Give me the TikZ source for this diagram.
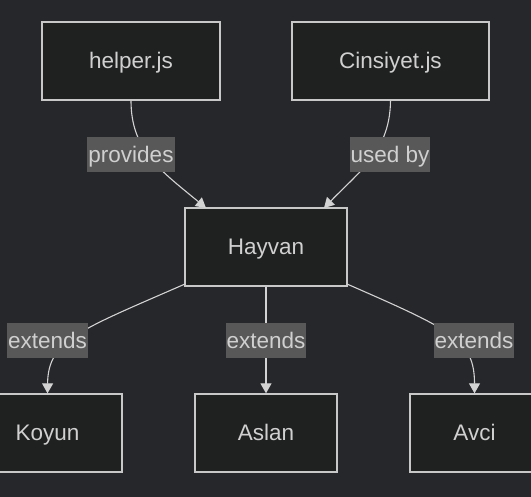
\documentclass[tikz,border=0pt]{standalone}
\usepackage{fontspec}
\setmainfont{Liberation Sans}
\usetikzlibrary{arrows.meta}
\definecolor{bgc}{HTML}{26272B}
\definecolor{nodefill}{HTML}{1F2020}
\definecolor{nodeline}{HTML}{C8C8C8}
\definecolor{lblfill}{HTML}{585858}
\definecolor{txt}{HTML}{D0D0D0}
\definecolor{edgec}{HTML}{D3D3D3}
\begin{document}
\begin{tikzpicture}[x=1pt,y=-1pt,
  box/.style={draw=nodeline,line width=1.3pt,fill=nodefill,text=txt,minimum height=78pt,inner sep=0pt,text height=16pt,text depth=0pt,font=\fontsize{22.5}{26}\selectfont},
  lbl/.style={fill=lblfill,text=txt,minimum height=35pt,inner xsep=1pt,inner ysep=0pt,text height=16pt,text depth=1pt,font=\fontsize{22.5}{26}\selectfont},
  edge/.style={draw=edgec,line width=1.1pt,-{Triangle[width=11pt,length=10pt]}}]
\useasboundingbox (0,0) rectangle (531,497);
\fill[bgc] (0,0) rectangle (531,497);
\clip (0,0) rectangle (531,497);
\node[box,minimum width=178pt] (helper) at (131,61) {helper.js};
\node[box,minimum width=197pt] (cins) at (390.5,61) {Cinsiyet.js};
\node[box,minimum width=162pt] (hayvan) at (266,247) {Hayvan};
\node[box,minimum width=149pt] (koyun) at (47.5,433) {Koyun};
\node[box,minimum width=142pt] (aslan) at (266,433) {Aslan};
\node[box,minimum width=129pt] (avci) at (474.5,433) {Avci};
\coordinate (hsw) at (185,284);
\coordinate (hse) at (347,284);
\draw[edge] (helper.south) .. controls (131,150) and (160,170) .. (206,208);
\draw[edge] (cins.south) .. controls (390,150) and (361,170) .. (324,208);
\draw[edge] (hsw) .. controls (80,330) and (48,340) .. (koyun.north);
\draw[edge] (hayvan.south) -- (aslan.north);
\draw[edge] (hse) .. controls (452,330) and (474.5,340) .. (avci.north);
\node[lbl] (l1) at (131,155) {provides};
\node[lbl] (l2) at (390,155) {used by};
\node[lbl] (l3) at (47.5,341) {extends};
\node[lbl] (l4) at (266,341) {extends};
\node[lbl] (l5) at (474,341) {extends};
\end{tikzpicture}
\end{document}
